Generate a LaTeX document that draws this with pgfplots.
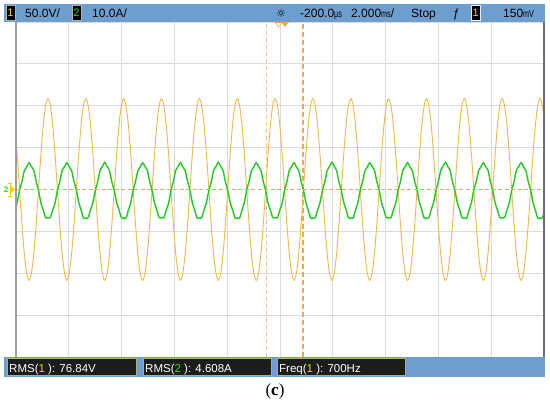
\documentclass[border=0pt]{standalone}
\usepackage{fontspec}
\setmainfont{Liberation Sans}
\newfontfamily\seriffont{Liberation Serif}
\newfontfamily\djv{DejaVu Sans}
\usepackage{pgfplots}
\usepackage{pgfplotstable}
\pgfplotsset{compat=1.18}
\definecolor{scopeblue}{HTML}{6E9ECE}
\definecolor{traceone}{HTML}{F2B84B}
\definecolor{tracetwo}{HTML}{1FCB1F}
\definecolor{chone}{HTML}{F5D000}
\definecolor{chtwo}{HTML}{22DD22}
\definecolor{trigorange}{HTML}{F2A55A}
\definecolor{gridgray}{HTML}{DCDCDC}
\definecolor{boxblack}{HTML}{1C1C1C}
% squeezed units as the scope draws them
\newcommand\su[1]{\scalebox{0.6}[0.85]{#1}}

% k = sample index, 16 samples per 700 Hz period; o = ch1 (div), g = ch2 (div)
\pgfplotstableread[row sep=\\]{
k o g\\
-14 1.53 -0.49\\ -13 0.83 -0.31\\ -12 0 -0.01\\ -11 -0.83 0.19\\ -10 -1.53 0.45\\ -9 -2.00 0.54\\ -8 -2.17 0.64\\
-7 -2.00 0.55\\ -6 -1.53 0.46\\ -5 -0.83 0.19\\ -4 0 -0.02\\ -3 0.83 -0.32\\ -2 1.53 -0.49\\ -1 2.00 -0.67\\
0 2.17 -0.67\\ 1 2.00 -0.67\\ 2 1.53 -0.49\\ 3 0.83 -0.32\\ 4 0 -0.02\\ 5 -0.83 0.19\\ 6 -1.53 0.46\\ 7 -2.00 0.55\\
8 -2.17 0.64\\ 9 -2.00 0.54\\ 10 -1.53 0.45\\ 11 -0.83 0.19\\ 12 0 -0.01\\ 13 0.83 -0.31\\ 14 1.53 -0.49\\ 15 2.00 -0.68\\
16 2.17 -0.68\\ 17 2.00 -0.67\\ 18 1.53 -0.48\\ 19 0.83 -0.31\\ 20 0 -0.02\\ 21 -0.83 0.18\\ 22 -1.53 0.45\\ 23 -2.00 0.55\\
24 -2.17 0.65\\ 25 -2.00 0.55\\ 26 -1.53 0.45\\ 27 -0.83 0.18\\ 28 0 -0.02\\ 29 0.83 -0.31\\ 30 1.53 -0.48\\ 31 2.00 -0.67\\
32 2.17 -0.68\\ 33 2.00 -0.68\\ 34 1.53 -0.49\\ 35 0.83 -0.31\\ 36 0 -0.01\\ 37 -0.83 0.19\\ 38 -1.53 0.45\\ 39 -2.00 0.54\\
40 -2.17 0.64\\ 41 -2.00 0.55\\ 42 -1.53 0.46\\ 43 -0.83 0.19\\ 44 0 -0.02\\ 45 0.83 -0.32\\ 46 1.53 -0.49\\ 47 2.00 -0.67\\
48 2.17 -0.67\\ 49 2.00 -0.67\\ 50 1.53 -0.49\\ 51 0.83 -0.32\\ 52 0 -0.02\\ 53 -0.83 0.19\\ 54 -1.53 0.46\\ 55 -2.00 0.55\\
56 -2.17 0.64\\ 57 -2.00 0.54\\ 58 -1.53 0.45\\ 59 -0.83 0.19\\ 60 0 -0.01\\ 61 0.83 -0.31\\ 62 1.53 -0.49\\ 63 2.00 -0.68\\
64 2.17 -0.68\\ 65 2.00 -0.67\\ 66 1.53 -0.48\\ 67 0.83 -0.31\\ 68 0 -0.02\\ 69 -0.83 0.18\\ 70 -1.53 0.45\\ 71 -2.00 0.55\\
72 -2.17 0.65\\ 73 -2.00 0.55\\ 74 -1.53 0.45\\ 75 -0.83 0.18\\ 76 0 -0.02\\ 77 0.83 -0.31\\ 78 1.53 -0.48\\ 79 2.00 -0.67\\
80 2.17 -0.68\\ 81 2.00 -0.68\\ 82 1.53 -0.49\\ 83 0.83 -0.31\\ 84 0 -0.01\\ 85 -0.83 0.19\\ 86 -1.53 0.45\\ 87 -2.00 0.54\\
88 -2.17 0.64\\ 89 -2.00 0.55\\ 90 -1.53 0.46\\ 91 -0.83 0.19\\ 92 0 -0.02\\ 93 0.83 -0.32\\ 94 1.53 -0.49\\ 95 2.00 -0.67\\
96 2.17 -0.67\\ 97 2.00 -0.67\\ 98 1.53 -0.49\\ 99 0.83 -0.32\\ 100 0 -0.02\\ 101 -0.83 0.19\\ 102 -1.53 0.46\\ 103 -2.00 0.55\\
104 -2.17 0.64\\ 105 -2.00 0.54\\ 106 -1.53 0.45\\ 107 -0.83 0.19\\ 108 0 -0.01\\ 109 0.83 -0.31\\ 110 1.53 -0.49\\ 111 2.00 -0.68\\
112 2.17 -0.68\\ 113 2.00 -0.67\\ 114 1.53 -0.48\\ 115 0.83 -0.31\\ 116 0 -0.02\\ 117 -0.83 0.18\\ 118 -1.53 0.45\\ 119 -2.00 0.55\\
120 -2.17 0.65\\ 121 -2.00 0.55\\ 122 -1.53 0.45\\ 123 -0.83 0.18\\ 124 0 -0.02\\ 125 0.83 -0.31\\ 126 1.53 -0.48\\ 127 2.00 -0.67\\
128 2.17 -0.68\\ 129 2.00 -0.68\\ 130 1.53 -0.49\\ 131 0.83 -0.31\\ 132 0 -0.01\\ 133 -0.83 0.19\\ 134 -1.53 0.45\\ 135 -2.00 0.54\\
136 -2.17 0.64\\ 137 -2.00 0.55\\ 138 -1.53 0.46\\ 139 -0.83 0.19\\ 140 0 -0.02\\ 141 0.83 -0.32\\ 142 1.53 -0.49\\ 143 2.00 -0.67\\
144 2.17 -0.67\\ 145 2.00 -0.67\\ 146 1.53 -0.49\\ 147 0.83 -0.32\\ 148 0 -0.02\\ 149 -0.83 0.19\\ 150 -1.53 0.46\\ 151 -2.00 0.55\\
152 -2.17 0.64\\ 153 -2.00 0.54\\ 154 -1.53 0.45\\ 155 -0.83 0.19\\ 156 0 -0.01\\ 157 0.83 -0.31\\ 158 1.53 -0.49\\ 159 2.00 -0.68\\
160 2.17 -0.68\\ 161 2.00 -0.67\\ 162 1.53 -0.48\\ 163 0.83 -0.31\\ 164 0 -0.02\\ 165 -0.83 0.18\\ 166 -1.53 0.45\\ 167 -2.00 0.55\\
168 -2.17 0.65\\ 169 -2.00 0.55\\ 170 -1.53 0.45\\ 171 -0.83 0.18\\ 172 0 -0.02\\ 173 0.83 -0.31\\ 174 1.53 -0.48\\ 175 2.00 -0.67\\
176 2.17 -0.68\\ 177 2.00 -0.68\\ 178 1.53 -0.49\\ 179 0.83 -0.31\\ 180 0 -0.01\\ 181 -0.83 0.19\\ 182 -1.53 0.45\\ 183 -2.00 0.54\\
184 -2.17 0.64\\ 185 -2.00 0.55\\ 186 -1.53 0.46\\ 187 -0.83 0.19\\ 188 0 -0.02\\ 189 0.83 -0.32\\ 190 1.53 -0.49\\ 191 2.00 -0.67\\
192 2.17 -0.67\\ 193 2.00 -0.67\\ 194 1.53 -0.49\\ 195 0.83 -0.32\\ 196 0 -0.02\\ 197 -0.83 0.19\\ 198 -1.53 0.46\\ 199 -2.00 0.55\\
200 -2.17 0.64\\ 201 -2.00 0.54\\ 202 -1.53 0.45\\ 203 -0.83 0.19\\ 204 0 -0.01\\ 205 0.83 -0.31\\ 206 1.53 -0.49\\ 207 2.00 -0.68\\
208 2.17 -0.68\\ 209 2.00 -0.67\\ 210 1.53 -0.48\\
}\wave

\begin{document}
\begin{tikzpicture}[x=1pt,y=1pt,
  txt/.style={anchor=base west, inner sep=0pt, font=\fontsize{12}{12}\selectfont},
  mtxt/.style={anchor=base west, inner sep=0pt, text=white, font=\fontsize{11.5}{12}\selectfont}]
\path[use as bounding box] (0,0) rectangle (550,408);
\fill[white] (0,0) rectangle (550,408);
\begin{axis}[
  at={(16pt,51pt)}, anchor=south west,
  width=528pt, height=335pt, scale only axis,
  xmin=-13.52, xmax=209.66, ymin=-4, ymax=4,
  xtick={-13.52,8.80,31.12,53.43,75.75,98.07,120.39,142.71,165.02,187.34,209.66},
  ytick={-4,-3,-2,-1,1,2,3,4},
  xticklabels={}, yticklabels={},
  major tick length=0pt,
  grid=major, grid style={gridgray, line width=0.9pt},
  axis line style={draw=none},
]
% cursors
\draw[trigorange!70, line width=0.9pt, dash pattern=on 4pt off 3pt] (axis cs:92.15,-4) -- (axis cs:92.15,4);
\draw[trigorange, line width=1.3pt, dash pattern=on 5pt off 3pt] (axis cs:107.79,-4) -- (axis cs:107.79,4);
\addplot[traceone, line width=0.9pt, smooth, tension=0.5] table[x=k, y=o] {\wave};
\addplot[tracetwo, line width=1.4pt, smooth, tension=0.5] table[x=k, y=g] {\wave};
\end{axis}
% trigger level (0 div)
\draw[trigorange, line width=1.1pt, dash pattern=on 4pt off 2.5pt] (17,218.5) -- (543,218.5);
% screen border
\draw[gray!75, line width=2.6pt] (16,51) -- (16,386);
\draw[gray!85!blue, line width=1.4pt] (544,51) -- (544,386);
% ground / trigger markers on the left
\draw[chone, line width=0.9pt] (10,212) -- (10,225) (8,212) -- (12,212) (8,225) -- (12,225);
\fill[chone] (11,215) -- (15,218.5) -- (11,222) -- cycle;
\node[text=chtwo, inner sep=0pt, font=\fontsize{8}{8}\selectfont\bfseries] at (6,218.5) {2};
% top status bar
\fill[scopeblue] (4,386) rectangle (545,404);
\filldraw[fill=black, draw=gray!60, line width=0.6pt] (6,387.5) rectangle (15,402.5);
\node[text=chone, inner sep=0pt, font=\fontsize{11}{11}\selectfont] at (10.5,395) {1};
\node[txt] at (25,390) {50.0V/};
\filldraw[fill=black, draw=gray!60, line width=0.6pt] (72,387.5) rectangle (81,402.5);
\node[text=chtwo, inner sep=0pt, font=\fontsize{11}{11}\selectfont] at (76.5,395) {2};
\node[txt] at (92,390) {10.0A/};
\node[inner sep=0pt, font=\djv\fontsize{11}{11}\selectfont] at (281,395) {☼};
\node[txt] at (300,390) {-200.0\su{µs}};
\node[txt] at (351,390) {2.000\su{ms}/};
\node[txt] at (411,390) {Stop};
\node[txt] at (453,390) {ƒ};
\filldraw[fill=black, draw=white!85!gray, line width=0.7pt] (471,387.5) rectangle (480.5,402.5);
\node[text=chone, inner sep=0pt, font=\fontsize{11}{11}\selectfont] at (475.8,395) {1};
\node[txt] at (503,390) {150\su{mV}};
% trigger position markers
\filldraw[fill=white, draw=trigorange, line width=0.6pt] (275.5,385.5) -- (281.5,385.5) -- (278.5,381) -- cycle;
\fill[trigorange] (281,386) -- (289,386) -- (285,381) -- cycle;
% bottom measurement bar
\fill[scopeblue] (4,31) rectangle (545,51);
\filldraw[fill=boxblack, draw=gray!70!yellow, line width=0.6pt] (7,32.5) rectangle (136,49.5);
\filldraw[fill=boxblack, draw=gray!70!yellow, line width=0.6pt] (143,32.5) rectangle (271,49.5);
\filldraw[fill=boxblack, draw=gray!70!yellow, line width=0.6pt] (277,32.5) rectangle (405,49.5);
\node[mtxt] at (9,36) {RMS(\textcolor{chone}{1} ): 76.84V};
\node[mtxt] at (145,36) {RMS(\textcolor{chtwo}{2} ): 4.608A};
\node[mtxt] at (279,36) {Freq(\textcolor{chone}{1} ): 700Hz};
% caption
\node[anchor=base, inner sep=0pt, font=\seriffont\fontsize{17}{19}\selectfont] at (275,13) {(\textbf{c})};
\end{tikzpicture}
\end{document}
